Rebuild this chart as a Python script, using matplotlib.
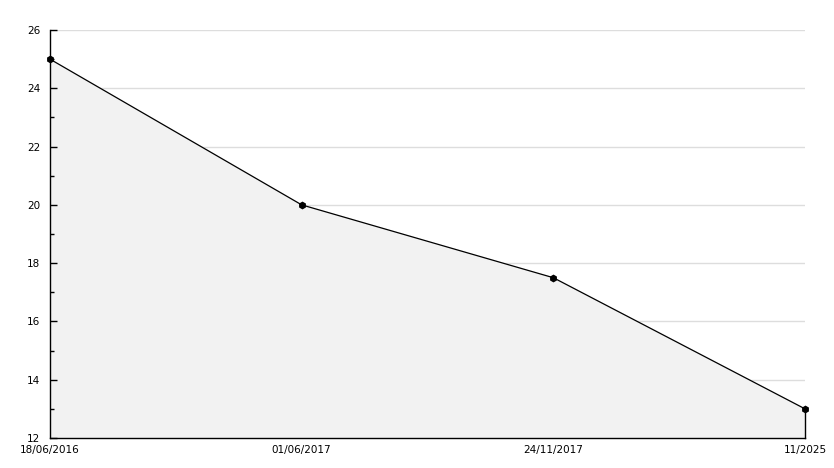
import numpy as np
import matplotlib.pyplot as plt

dates = ['18/06/2016', '01/06/2017', '24/11/2017', '11/2025']
values = [25, 20, 17.5, 13]
y_min, y_max = 12, 26

fig = plt.figure(figsize=(8.34, 4.68), dpi=100)
ax = fig.add_axes([50 / 834, 30 / 468, 755 / 834, 408 / 468])

x = np.arange(len(values))
major = np.arange(y_min, y_max + 1, 2)

# grid lines sit under the filled area
ax.hlines(major, x[0], x[-1], color='#dddddd', lw=1, zorder=0.5)
ax.fill_between(x, values, y_min, color='#f2f2f2', zorder=1)
ax.plot(x, values, color='black', lw=0.9, zorder=3)
ax.plot([x[-1], x[-1]], [y_min, values[-1]], color='black', lw=1, zorder=3, clip_on=False)
ax.plot(x, values, ls='none', marker='h', ms=4.5, color='black', zorder=4, clip_on=False)

ax.set_xlim(x[0], x[-1])
ax.set_ylim(y_min, y_max)
ax.set_yticks(major)
ax.set_yticks(np.arange(y_min + 1, y_max, 2), minor=True)

ax.set_xticks(x)
ax.set_xticklabels(dates)
for s in ['top', 'right']:
    ax.spines[s].set_visible(False)
ax.spines['left'].set_linewidth(1)
ax.spines['bottom'].set_linewidth(1)
ax.spines['left'].set_zorder(5)
ax.spines['bottom'].set_zorder(5)

ax.tick_params(axis='y', which='major', direction='in', length=5, width=1, labelsize=7.5, pad=7)
ax.tick_params(axis='y', which='minor', direction='in', length=3, width=1)
ax.tick_params(axis='x', length=0, labelsize=7.5, pad=5)

fig.savefig('out.png', dpi=100)
